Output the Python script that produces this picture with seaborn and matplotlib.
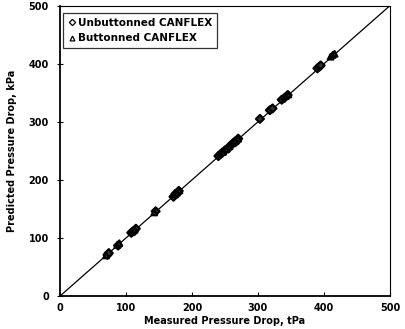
import matplotlib
matplotlib.use("Agg")
import matplotlib.pyplot as plt
import seaborn as sns
import pandas as pd
from matplotlib.lines import Line2D

# Unbuttoned CANFLEX (diamonds)
unb_measured = [72, 74, 88, 108, 110, 112, 115, 145, 172, 175, 178, 180,
                240, 243, 246, 250, 255, 258, 262, 265, 268, 270,
                303, 318, 322, 336, 340, 345, 390, 393, 395]
unb_predicted = [71, 74, 87, 109, 111, 112, 116, 146, 171, 176, 177, 181,
                 241, 244, 247, 251, 254, 259, 263, 266, 267, 271,
                 305, 320, 323, 338, 341, 346, 392, 395, 397]

# Buttoned CANFLEX (triangles)
but_measured = [70, 87, 90, 110, 113, 143, 174, 177, 181,
                247, 252, 257, 262, 266, 270, 342, 346, 410, 413, 416]
but_predicted = [70, 88, 91, 111, 114, 144, 175, 178, 182,
                 248, 253, 258, 263, 267, 271, 344, 347, 412, 415, 417]

labels = ["Unbuttonned CANFLEX", "Buttonned CANFLEX"]
ticks = [0, 100, 200, 300, 400, 500]

df = pd.DataFrame({
    "measured": unb_measured + but_measured,
    "predicted": unb_predicted + but_predicted,
    "type": [labels[0]] * len(unb_measured) + [labels[1]] * len(but_measured),
})

sns.set_theme(style="white")
plt.rcParams['font.family'] = ['DejaVu Sans']
plt.rcParams['text.color'] = 'black'
plt.rcParams['axes.labelcolor'] = 'black'
plt.rcParams['xtick.color'] = 'black'
plt.rcParams['ytick.color'] = 'black'

fig = plt.figure(figsize=(4.05, 3.29), dpi=100)
ax = fig.add_axes([0.148, 0.1, 0.815, 0.883])

ax.plot([0, 500], [0, 500], color="black", lw=0.9, zorder=1)

sns.scatterplot(data=df, x="measured", y="predicted", hue="type", style="type",
                markers={labels[0]: "D", labels[1]: "^"},
                palette={labels[0]: "black", labels[1]: "black"},
                s=16, linewidth=1.6, edgecolor="black", ax=ax, zorder=3,
                legend=False)
for coll in ax.collections:
    coll.set_facecolor("#333333")
    coll.set_edgecolor("black")

ax.set_xlim(0, 500)
ax.set_ylim(0, 500)
ax.set_xticks(ticks)
ax.set_yticks(ticks)
ax.set_xticklabels([str(t) for t in ticks], fontsize=7, fontweight="bold")
ax.set_yticklabels([str(t) for t in ticks], fontsize=7, fontweight="bold")
ax.tick_params(axis="x", direction="in", length=3, width=0.8, pad=5, bottom=True, colors="black")
ax.tick_params(axis="y", direction="inout", length=4, width=0.8, pad=6, left=True, colors="black")

ax.set_xlabel("Measured Pressure Drop, tPa", fontsize=7, fontweight="bold", labelpad=2, color="black")
ax.set_ylabel("Predicted Pressure Drop, kPa", fontsize=7, fontweight="bold", labelpad=8, color="black")

for side in ["left", "bottom"]:
    ax.spines[side].set_linewidth(1.3)
    ax.spines[side].set_color("black")
for side in ["top", "right"]:
    ax.spines[side].set_linewidth(0.8)
    ax.spines[side].set_color("black")

handles = [Line2D([], [], marker="D", ls="none", mfc="white", mec="black", ms=3.2, mew=0.9),
           Line2D([], [], marker="^", ls="none", mfc="white", mec="black", ms=3.5, mew=0.9)]
leg = ax.legend(handles, labels, loc="upper left", bbox_to_anchor=(0.0, 0.985),
                frameon=True, fancybox=False, edgecolor="black",
                prop={"weight": "bold", "size": 7.5}, handletextpad=0.2,
                handlelength=0.8, borderpad=0.45, labelspacing=0.55,
                borderaxespad=0.3)
leg.get_frame().set_linewidth(0.9)
for t in leg.get_texts():
    t.set_color("black")

fig.savefig("out.png", dpi=100, facecolor="white")
